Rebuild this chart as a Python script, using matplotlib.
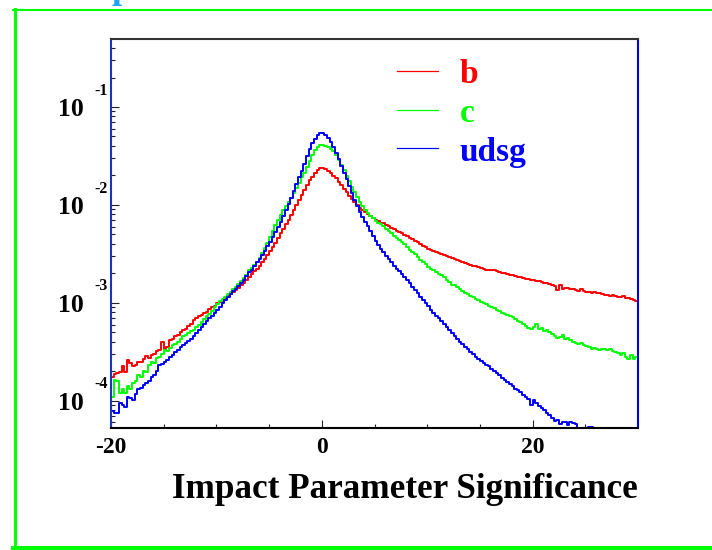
import numpy as np
import matplotlib
matplotlib.use("Agg")
import matplotlib.pyplot as plt
from matplotlib.lines import Line2D
from matplotlib.transforms import blended_transform_factory, offset_copy
from matplotlib.ticker import FixedLocator, LogLocator, NullFormatter

# 200 bins of width 0.25 between -20 and 30
bin_lo, bin_hi, n_bins = -20.0, 30.0, 200

# log10 of the normalised bin contents, one row per unit of significance
log_b = [
    -3.76, -3.73, -3.72, -3.71,
    -3.65, -3.71, -3.58, -3.62,
    -3.65, -3.64, -3.60, -3.60,
    -3.57, -3.54, -3.56, -3.53,
    -3.52, -3.49, -3.48, -3.40,
    -3.47, -3.45, -3.38, -3.37,
    -3.34, -3.33, -3.30, -3.28,
    -3.27, -3.24, -3.22, -3.18,
    -3.16, -3.14, -3.12, -3.10,
    -3.09, -3.06, -3.04, -3.03,
    -3.00, -2.99, -2.97, -2.95,
    -2.93, -2.91, -2.89, -2.87,
    -2.85, -2.82, -2.80, -2.77,
    -2.74, -2.71, -2.68, -2.65,
    -2.62, -2.58, -2.55, -2.51,
    -2.47, -2.43, -2.39, -2.34,
    -2.29, -2.25, -2.20, -2.15,
    -2.10, -2.05, -2.00, -1.95,
    -1.90, -1.85, -1.80, -1.75,
    -1.71, -1.67, -1.64, -1.62,
    -1.62, -1.63, -1.65, -1.67,
    -1.70, -1.73, -1.77, -1.80,
    -1.84, -1.87, -1.91, -1.94,
    -1.97, -2.00, -2.03, -2.05,
    -2.07, -2.09, -2.11, -2.13,
    -2.15, -2.16, -2.18, -2.19,
    -2.21, -2.22, -2.24, -2.25,
    -2.27, -2.28, -2.29, -2.31,
    -2.32, -2.34, -2.35, -2.37,
    -2.38, -2.40, -2.42, -2.43,
    -2.45, -2.46, -2.47, -2.48,
    -2.49, -2.50, -2.51, -2.52,
    -2.53, -2.54, -2.55, -2.56,
    -2.57, -2.58, -2.59, -2.60,
    -2.61, -2.62, -2.62, -2.63,
    -2.64, -2.65, -2.66, -2.66,
    -2.67, -2.66, -2.68, -2.69,
    -2.70, -2.70, -2.71, -2.72,
    -2.72, -2.73, -2.74, -2.74,
    -2.75, -2.76, -2.76, -2.77,
    -2.77, -2.78, -2.78, -2.79,
    -2.80, -2.80, -2.81, -2.82,
    -2.83, -2.87, -2.82, -2.86,
    -2.85, -2.85, -2.86, -2.86,
    -2.87, -2.88, -2.86, -2.88,
    -2.89, -2.89, -2.90, -2.89,
    -2.90, -2.90, -2.91, -2.92,
    -2.92, -2.93, -2.92, -2.93,
    -2.94, -2.94, -2.93, -2.95,
    -2.95, -2.96, -2.97, -2.98,
]

log_c = [
    -3.96, -3.79, -3.80, -3.92,
    -3.88, -3.92, -3.85, -3.88,
    -3.82, -3.80, -3.74, -3.76,
    -3.70, -3.71, -3.64, -3.60,
    -3.61, -3.56, -3.55, -3.52,
    -3.48, -3.49, -3.46, -3.43,
    -3.42, -3.40, -3.37, -3.34,
    -3.33, -3.31, -3.29, -3.28,
    -3.25, -3.23, -3.20, -3.17,
    -3.14, -3.11, -3.08, -3.04,
    -3.01, -2.98, -2.96, -2.94,
    -2.91, -2.89, -2.86, -2.84,
    -2.81, -2.78, -2.75, -2.72,
    -2.67, -2.64, -2.61, -2.58,
    -2.54, -2.49, -2.44, -2.39,
    -2.33, -2.27, -2.21, -2.15,
    -2.10, -2.05, -2.01, -1.97,
    -1.93, -1.88, -1.83, -1.78,
    -1.72, -1.67, -1.61, -1.55,
    -1.49, -1.44, -1.41, -1.39,
    -1.39, -1.40, -1.41, -1.43,
    -1.45, -1.49, -1.54, -1.59,
    -1.64, -1.70, -1.76, -1.82,
    -1.87, -1.92, -1.97, -2.01,
    -2.05, -2.08, -2.11, -2.13,
    -2.16, -2.18, -2.20, -2.22,
    -2.25, -2.27, -2.29, -2.32,
    -2.34, -2.36, -2.38, -2.40,
    -2.43, -2.46, -2.48, -2.50,
    -2.53, -2.56, -2.58, -2.60,
    -2.63, -2.65, -2.67, -2.69,
    -2.71, -2.72, -2.74, -2.77,
    -2.79, -2.82, -2.82, -2.84,
    -2.86, -2.88, -2.90, -2.91,
    -2.93, -2.94, -2.96, -2.97,
    -2.99, -3.00, -3.01, -3.03,
    -3.04, -3.05, -3.07, -3.08,
    -3.10, -3.11, -3.12, -3.14,
    -3.15, -3.17, -3.19, -3.20,
    -3.22, -3.24, -3.26, -3.27,
    -3.25, -3.22, -3.27, -3.26,
    -3.29, -3.28, -3.30, -3.32,
    -3.34, -3.36, -3.35, -3.33,
    -3.37, -3.36, -3.38, -3.40,
    -3.41, -3.42, -3.41, -3.43,
    -3.44, -3.45, -3.47, -3.46,
    -3.47, -3.48, -3.47, -3.47,
    -3.48, -3.47, -3.49, -3.50,
    -3.51, -3.53, -3.51, -3.55,
    -3.57, -3.53, -3.57, -3.55,
]

# empty bins at the far right are None
log_udsg = [
    -4.11, -4.13, -4.13, -4.02,
    -4.04, -4.06, -3.96, -3.97,
    -3.99, -3.93, -3.88, -3.87,
    -3.84, -3.82, -3.80, -3.76,
    -3.74, -3.70, -3.64, -3.63,
    -3.60, -3.58, -3.55, -3.53,
    -3.50, -3.48, -3.45, -3.43,
    -3.41, -3.39, -3.37, -3.34,
    -3.31, -3.28, -3.25, -3.22,
    -3.19, -3.16, -3.13, -3.10,
    -3.07, -3.04, -3.00, -2.97,
    -2.94, -2.91, -2.88, -2.86,
    -2.83, -2.80, -2.77, -2.73,
    -2.69, -2.66, -2.62, -2.58,
    -2.55, -2.51, -2.47, -2.42,
    -2.38, -2.33, -2.28, -2.23,
    -2.17, -2.11, -2.05, -1.99,
    -1.93, -1.86, -1.79, -1.72,
    -1.65, -1.58, -1.50, -1.43,
    -1.37, -1.33, -1.29, -1.27,
    -1.27, -1.29, -1.32, -1.36,
    -1.41, -1.47, -1.53, -1.60,
    -1.67, -1.74, -1.81, -1.88,
    -1.95, -2.01, -2.07, -2.12,
    -2.17, -2.22, -2.27, -2.32,
    -2.37, -2.41, -2.45, -2.48,
    -2.52, -2.55, -2.58, -2.62,
    -2.65, -2.68, -2.71, -2.74,
    -2.77, -2.80, -2.84, -2.87,
    -2.90, -2.94, -2.97, -3.00,
    -3.03, -3.07, -3.10, -3.13,
    -3.16, -3.19, -3.22, -3.25,
    -3.28, -3.31, -3.34, -3.37,
    -3.40, -3.42, -3.45, -3.47,
    -3.50, -3.52, -3.55, -3.57,
    -3.59, -3.62, -3.64, -3.65,
    -3.68, -3.70, -3.72, -3.74,
    -3.77, -3.79, -3.81, -3.83,
    -3.85, -3.88, -3.89, -3.91,
    -3.94, -3.96, -3.98, -4.04,
    -3.99, -4.02, -4.05, -4.07,
    -4.10, -4.13, -4.15, -4.18,
    -4.21, -4.20, -4.24, -4.22,
    -4.22, -4.25, -4.22, -4.23,
    -4.24, -4.40, -4.35, -4.40,
    -4.32, -4.27, -4.27, -4.40,
    None, None, None, None,
    None, None, None, None,
    None, None, None, None,
    None, None, None, None,
]

labels = ["b", "c", "udsg"]
colors = ["#ff0000", "#00ff00", "#0000ff"]
exponents = [-1, -2, -3, -4]
x_labels = [-20, 0, 20]

W, H = 712, 550
serif = "Liberation Serif"
fig = plt.figure(figsize=(W / 100, H / 100), dpi=100)
fig.patch.set_facecolor("white")


def fx(px):
    return px / W


def fy(py):
    return 1 - py / H


ax = fig.add_axes([fx(111), fy(428), fx(638) - fx(111), fy(39) - fy(428)])
edges = np.linspace(bin_lo, bin_hi, n_bins + 1)

for vals, col in zip([log_b, log_c, log_udsg], colors):
    h = 10 ** np.array(vals, dtype=float)
    ax.step(edges, np.append(h, h[-1]), where="post", color=col, lw=1.4)

ax.set_yscale("log")
ax.set_xlim(bin_lo, bin_hi)
ax.set_ylim(5.26e-5, 0.495)

# frame
for side, col in [("left", "#1a35b8"), ("right", "#0000ee"),
                  ("top", "#333333"), ("bottom", "black")]:
    ax.spines[side].set_color(col)
    ax.spines[side].set_linewidth(1.5)

ax.xaxis.set_major_locator(FixedLocator(x_labels))
ax.xaxis.set_minor_locator(FixedLocator(np.arange(-15, 30, 5)))
ax.yaxis.set_major_locator(LogLocator(base=10))
ax.yaxis.set_minor_locator(LogLocator(base=10, subs=np.arange(2, 10)))
ax.yaxis.set_minor_formatter(NullFormatter())
ax.tick_params(which="both", direction="in", top=False, right=False,
               labelleft=False, labelbottom=False, width=0.8, color="#222222")
ax.tick_params(which="major", length=5.5)
ax.tick_params(which="minor", length=3)

# x tick labels
tx = blended_transform_factory(ax.transData, fig.transFigure)
for v in x_labels:
    ax.text(v, fy(453), str(v), transform=tx, ha="center", va="baseline",
            fontsize=17, fontweight="bold", family=serif)

# y tick labels in the form 10 with a raised exponent
ty = blended_transform_factory(fig.transFigure, ax.transData)
base_tr = offset_copy(ty, fig=fig, x=0, y=-9.4 * 0.72, units="points")
exp_tr = offset_copy(ty, fig=fig, x=0, y=12.3 * 0.72, units="points")
for e in exponents:
    ax.text(fx(84), 10.0 ** e, "10", transform=base_tr, ha="right",
            va="baseline", fontsize=18.5, fontweight="bold", family=serif)
    ax.text(fx(108), 10.0 ** e, str(e), transform=exp_tr, ha="right",
            va="baseline", fontsize=11.5, fontweight="bold", family=serif)

fig.text(fx(638), fy(498), "Impact Parameter Significance", ha="right",
         va="baseline", fontsize=25.3, fontweight="bold", family=serif)

# legend
for i, (lab, col) in enumerate(zip(labels, colors)):
    ly = 70.7 + 38.8 * i
    fig.add_artist(Line2D([fx(397), fx(438)], [fy(ly), fy(ly)], color=col, lw=0.9))
    fig.text(fx(460), fy(ly + 12.5), lab, color=col, ha="left", va="baseline",
             fontsize=24, fontweight="bold", family=serif)

# pad border and the clipped title above it
green = "#00ff00"
fig.add_artist(Line2D([fx(13), fx(712)], [fy(10), fy(10)], color=green, lw=1.5))
fig.add_artist(Line2D([fx(14.5), fx(14.5)], [fy(9), fy(550)], color=green, lw=2.2))
fig.add_artist(Line2D([fx(13), fx(712)], [fy(547.5), fy(547.5)], color=green, lw=3.6))
fig.text(fx(112), fy(-2.5), "p", color="#1ca4ec", ha="left", va="baseline",
         fontsize=26, fontweight="bold", family=serif)

fig.savefig("out.png", dpi=100)
